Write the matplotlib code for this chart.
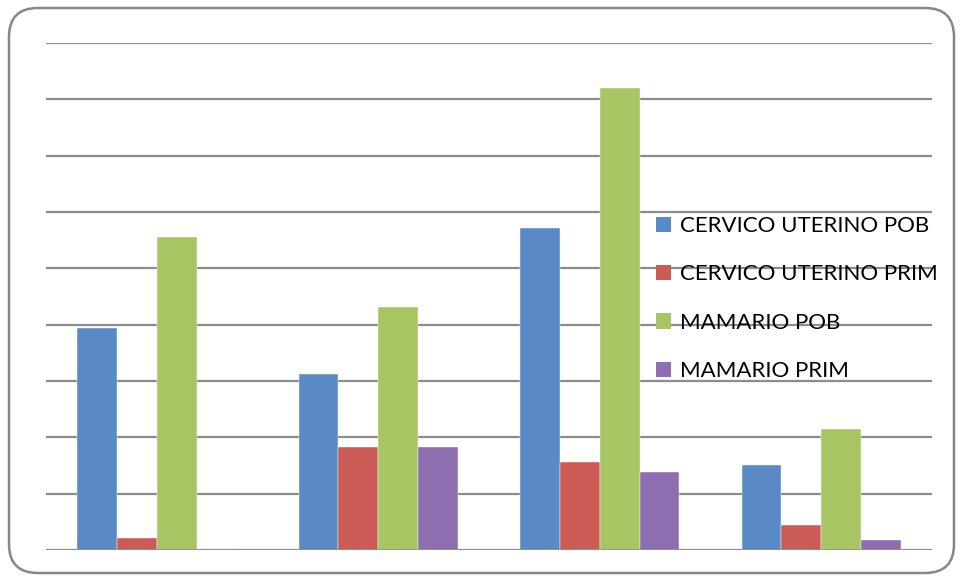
import numpy as np
import matplotlib.pyplot as plt
from matplotlib.patches import FancyBboxPatch, Patch

# Datos (en unidades de la cuadrícula, sin etiquetas de eje en el original)
grupos = ['1', '2', '3', '4']
series = ['CERVICO UTERINO POB', 'CERVICO UTERINO PRIM', 'MAMARIO POB', 'MAMARIO PRIM']
cervico_pob = [3.94, 3.13, 5.72, 1.51]
cervico_prim = [0.21, 1.83, 1.56, 0.44]
mamario_pob = [5.56, 4.32, 8.21, 2.15]
mamario_prim = [0.0, 1.83, 1.39, 0.18]

colores = ['#5A8AC6', '#CC5B55', '#A7C563', '#8D6FB1']
valores = [cervico_pob, cervico_prim, mamario_pob, mamario_prim]

W, H = 962, 581
fig = plt.figure(figsize=(W / 100, H / 100), dpi=100)
ax = fig.add_axes([46 / W, (H - 550) / H, (932 - 46) / W, (550 - 43) / H])

x = np.arange(len(grupos))
ancho = 0.18
for i, (vals, c) in enumerate(zip(valores, colores)):
    ax.bar(x + (i - 1.5) * ancho, vals, ancho, color=c, zorder=3,
           edgecolor='white', linewidth=0.3)

ax.set_xlim(-0.5, len(grupos) - 0.5)
ax.set_ylim(0, 9)
ax.set_yticks(np.arange(0, 10, 1))
ax.yaxis.grid(True, color='#8C8C8C', linewidth=1.6, zorder=0)
ax.tick_params(left=False, bottom=False, labelleft=False, labelbottom=False)
for s in ax.spines.values():
    s.set_visible(False)
ax.axhline(0, color='#8C8C8C', linewidth=1.8, zorder=4)

handles = [Patch(facecolor=c) for c in colores]
fig.legend(handles, series, loc='upper left', bbox_to_anchor=(656 / W, 1 - 216 / H),
           frameon=False, prop={'family': 'Lato', 'size': 16},
           handlelength=0.68, handleheight=0.68, handletextpad=0.4,
           labelspacing=1.28, borderpad=0, borderaxespad=0)

borde = FancyBboxPatch((9 / W, 8 / H), (954 - 9) / W, (573 - 8) / H,
                       boxstyle='round,pad=0,rounding_size=0.03',
                       transform=fig.transFigure, facecolor='none',
                       edgecolor='#878787', linewidth=1.8, mutation_aspect=W / H)
fig.patches.append(borde)

fig.savefig('out.png', dpi=100)
